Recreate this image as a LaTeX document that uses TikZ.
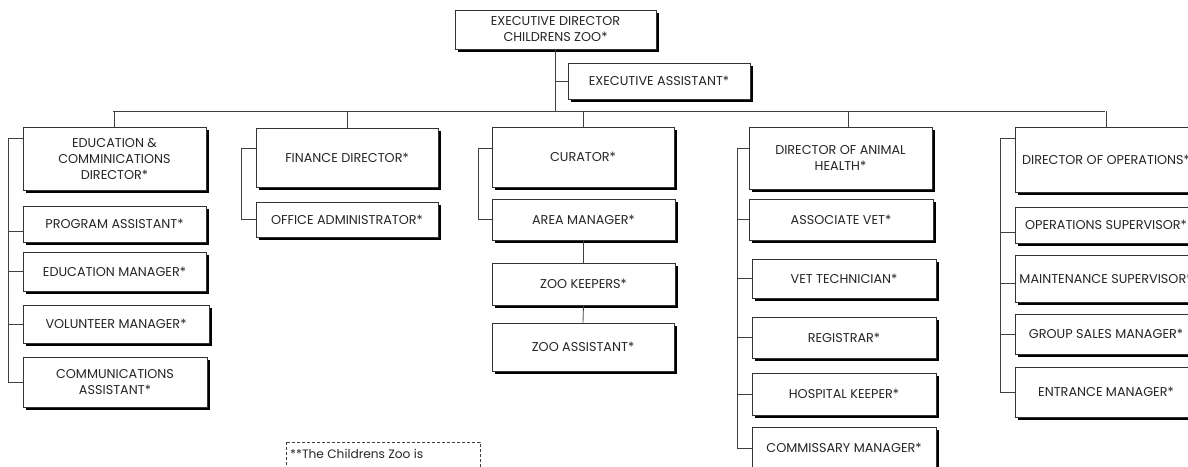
\documentclass[tikz,border=0pt]{standalone}
\usepackage{fontspec}
\setmainfont{Poppins}
\begin{document}
\begin{tikzpicture}[x=1pt,y=-1pt,
  box/.style={draw=black!80, line width=0.7pt, fill=white, align=center, inner sep=0pt,
    text=black!85, font=\fontsize{12.8}{16}\selectfont,
    preaction={fill=black, transform canvas={shift={(3pt,-3pt)}}}},
  conn/.style={draw=black!75, line width=0.8pt},
  notebox/.style={draw=black!75, line width=0.7pt, dash pattern=on 3pt off 2pt}]
\useasboundingbox (0,0) rectangle (1188,466);
\clip (0,0) rectangle (1188,466);
% top
\node[box, minimum width=201pt, minimum height=39pt] (top) at (555.5,29.5) {EXECUTIVE DIRECTOR\\CHILDRENS ZOO*};
\node[box, minimum width=182pt, minimum height=36pt] (ea) at (659,81) {EXECUTIVE ASSISTANT*};
% column 1
\node[box, minimum width=183pt, minimum height=63pt] (edu) at (114.5,158.5) {EDUCATION \&\\COMMINICATIONS\\DIRECTOR*};
\node[box, minimum width=183pt, minimum height=36pt] (pa) at (114.5,224) {PROGRAM ASSISTANT*};
\node[box, minimum width=183pt, minimum height=39pt] (em) at (114.5,271.5) {EDUCATION MANAGER*};
\node[box, minimum width=186pt, minimum height=38pt] (vm) at (116,324) {VOLUNTEER MANAGER*};
\node[box, minimum width=184pt, minimum height=50pt] (ca) at (115,382) {COMMUNICATIONS\\ASSISTANT*};
% column 2
\node[box, minimum width=182pt, minimum height=59pt] (fd) at (347,157.5) {FINANCE DIRECTOR*};
\node[box, minimum width=182pt, minimum height=35pt] (oa) at (347,219.5) {OFFICE ADMINISTRATOR*};
% column 3
\node[box, minimum width=182pt, minimum height=60pt] (cur) at (583,157) {CURATOR*};
\node[box, minimum width=183pt, minimum height=41pt] (am) at (583.5,219.5) {AREA MANAGER*};
\node[box, minimum width=183pt, minimum height=42pt] (zk) at (583.5,284) {ZOO KEEPERS*};
\node[box, minimum width=182pt, minimum height=48pt] (za) at (583,347) {ZOO ASSISTANT*};
% column 4
\node[box, minimum width=183pt, minimum height=62pt] (dah) at (840.5,158) {DIRECTOR OF ANIMAL\\HEALTH*};
\node[box, minimum width=184pt, minimum height=41pt] (av) at (841,219.5) {ASSOCIATE VET*};
\node[box, minimum width=184pt, minimum height=39pt] (vt) at (844,278.5) {VET TECHNICIAN*};
\node[box, minimum width=184pt, minimum height=41pt] (reg) at (844,337.5) {REGISTRAR*};
\node[box, minimum width=184pt, minimum height=42pt] (hk) at (844,394) {HOSPITAL KEEPER*};
\node[box, minimum width=184pt, minimum height=42pt] (cm) at (844,448) {COMMISSARY MANAGER*};
% column 5
\node[box, minimum width=182pt, minimum height=65pt] (dop) at (1106,159.5) {DIRECTOR OF OPERATIONS*};
\node[box, minimum width=182pt, minimum height=36pt] (os) at (1106,225) {OPERATIONS SUPERVISOR*};
\node[box, minimum width=182pt, minimum height=47pt] (ms) at (1106,278.5) {MAINTENANCE SUPERVISOR*};
\node[box, minimum width=182pt, minimum height=40pt] (gsm) at (1106,334) {GROUP SALES MANAGER*};
\node[box, minimum width=182pt, minimum height=50pt] (enm) at (1106,392) {ENTRANCE MANAGER*};
% bus
\coordinate (bL) at (113,111);
\coordinate (bR) at (1105,111);
\draw[conn] (bL) -- (bR);
\draw[conn] (top.south) -- (top.south |- bL);
\draw[conn] (ea.west) -- (ea.west -| top.south);
\draw[conn] (edu.north) -- (edu.north |- bL);
\draw[conn] (fd.north) -- (fd.north |- bL);
\draw[conn] (cur.north) -- (cur.north |- bL);
\draw[conn] ([xshift=7.5pt]dah.north) -- ([xshift=7.5pt]dah.north |- bL);
\draw[conn] (dop.north) -- (dop.north |- bL);
% spines
\coordinate (s1) at (8,138);
\coordinate (s2) at (241,148);
\coordinate (s3) at (478,148);
\coordinate (s4) at (737,148);
\coordinate (s5) at (1000,138);
\draw[conn] ([yshift=20.5pt]edu.west) -- (s1) -- (s1 |- ca.west) -- (ca.west);
\draw[conn] ([yshift=-7pt]pa.west) -- ([yshift=-7pt]pa.west -| s1);
\draw[conn] (em.west) -- (em.west -| s1);
\draw[conn] (vm.west) -- (vm.west -| s1);
\draw[conn] ([yshift=9.5pt]fd.west) -- (s2) -- (s2 |- oa.west) -- (oa.west);
\draw[conn] ([yshift=9pt]cur.west) -- (s3) -- (s3 |- am.west) -- (am.west);
\draw[conn] (am.south) -- (zk.north);
\draw[conn] (zk.south) -- (za.north);
\draw[conn] ([yshift=10pt]dah.west) -- (s4) -- (s4 |- cm.west) -- (cm.west);
\draw[conn] (av.west) -- (av.west -| s4);
\draw[conn] (vt.west) -- (vt.west -| s4);
\draw[conn] (reg.west) -- (reg.west -| s4);
\draw[conn] (hk.west) -- (hk.west -| s4);
\draw[conn] ([yshift=21.5pt]dop.west) -- (s5) -- (s5 |- enm.west) -- (enm.west);
\draw[conn] ([yshift=-7pt]os.west) -- ([yshift=-7pt]os.west -| s5);
\draw[conn] ([yshift=-4.5pt]ms.west) -- ([yshift=-4.5pt]ms.west -| s5);
\draw[conn] (gsm.west) -- (gsm.west -| s5);
% note
\draw[notebox] (286,442) rectangle (480,490);
\node[anchor=base west, inner sep=0pt, text=black!85, font=\fontsize{12.2}{14}\selectfont] (note) at (290,458) {**The Childrens Zoo is};
\end{tikzpicture}
\end{document}
